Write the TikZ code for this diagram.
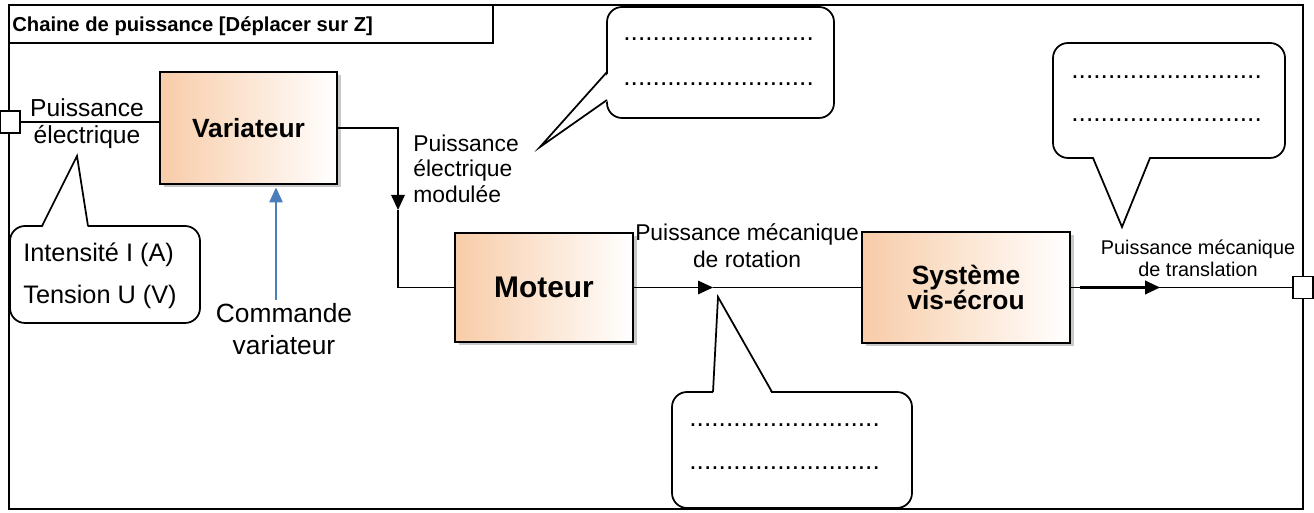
\documentclass[tikz,border=0pt]{standalone}
\usepackage{fontspec}
\setmainfont{Liberation Sans}
\usetikzlibrary{arrows.meta,shadows}
\definecolor{blocpeach}{RGB}{248,204,168}
\definecolor{commandeblue}{RGB}{74,126,187}

\begin{document}
\begin{tikzpicture}[
    bloc/.style={draw, line width=0.04cm, left color=blocpeach, right color=white,
      drop shadow={shadow xshift=0.07cm, shadow yshift=-0.07cm, fill=black!30, opacity=0.7},
      align=center, font=\bfseries\fontsize{15}{14.2}\selectfont},
    port/.style={draw, fill=white, line width=0.03cm, minimum width=0.40cm, minimum height=0.44cm, inner sep=0pt},
    flux/.style={line width=0.03cm},
    fleche/.style={line width=0.03cm, -{Triangle[length=0.30cm,width=0.27cm]}},
    bulle/.style={line width=0.035cm, rounded corners=0.3cm},
    etiquette/.style={inner sep=0pt, align=center},
    pointilles/.style={inner sep=0pt, anchor=base west, font=\fontsize{15}{18}\selectfont}
  ]
        \useasboundingbox (0,0) rectangle (26.280000,10.260000);

        % Drawing frame and title box
        \draw [line width=0.04cm] (0.180000,0.080000) rectangle (26.060000,10.160000);%
        \draw [line width=0.03cm] (0.180000,9.400000) rectangle (9.860000,10.160000);%
        \node [anchor=base west, inner sep=0pt, font=\bfseries\fontsize{11.5}{13}\selectfont] (titre) at (0.240000,9.620000) {Chaine de puissance [Déplacer sur Z]};%

        % Drawing callout for Intensite / Tension
        \draw [bulle] (0.200000,3.800000) rectangle (4.000000,5.740000);%
        \fill [white] (0.840000,5.690000) -- (1.540000,7.140000) -- (1.760000,5.690000) -- cycle;%
        \draw [line width=0.035cm] (0.840000,5.740000) -- (1.540000,7.140000) -- (1.760000,5.740000);%

        % Drawing callout near Puissance electrique modulee
        \draw [bulle] (12.140000,7.900000) rectangle (16.680000,10.120000);%
        \fill [white] (12.190000,8.820000) -- (10.800000,7.320000) -- (12.190000,8.260000) -- cycle;%
        \draw [line width=0.035cm] (12.140000,8.820000) -- (10.800000,7.320000) -- (12.140000,8.260000);%

        % Drawing callout under rotation
        \draw [bulle] (13.440000,0.100000) rectangle (18.240000,2.420000);%
        \fill [white] (14.260000,2.370000) -- (14.360000,4.320000) -- (15.440000,2.370000) -- cycle;%
        \draw [line width=0.035cm] (14.260000,2.420000) -- (14.360000,4.320000) -- (15.440000,2.420000);%

        % Drawing callout over translation
        \draw [bulle] (21.060000,7.100000) rectangle (25.700000,9.400000);%
        \fill [white] (21.860000,7.150000) -- (22.440000,5.720000) -- (23.000000,7.150000) -- cycle;%
        \draw [line width=0.035cm] (21.860000,7.100000) -- (22.440000,5.720000) -- (23.000000,7.100000);%

        % Marking blocks
        \node [bloc, minimum width=3.54cm, minimum height=2.24cm] (variateur) at (4.970000,7.700000) {Variateur};%
        \node [bloc, minimum width=3.56cm, minimum height=2.18cm, font=\bfseries\fontsize{17}{20}\selectfont] (moteur) at (10.880000,4.510000) {Moteur};%
        \node [bloc, minimum width=4.16cm, minimum height=2.22cm] (systeme) at (19.320000,4.510000) {Système\\vis-écrou};%

        % Marking ports
        \node [port] (entree) at (0.200000,7.820000) {};%
        \node [port] (sortie) at (26.060000,4.510000) {};%

        % Drawing power flow
        \draw [flux] (entree.east) -- (entree.east -| variateur.west);%
        \coordinate (modulee) at (7.960000,6.060000);%
        \draw [fleche] (variateur.east) -| (modulee);%
        \draw [flux] (modulee) |- (moteur.west);%
        \coordinate (rotation) at (14.260000,4.510000);%
        \draw [fleche] (moteur.east) -- (rotation);%
        \draw [flux] (rotation) -- (systeme.west);%
        \draw [flux] (systeme.east) -- (sortie.west);%
        \coordinate (translationdebut) at (21.600000,4.510000);%
        \coordinate (translation) at (23.200000,4.510000);%
        \draw [fleche, line width=0.05cm] (translationdebut) -- (translation);%

        % Drawing command input
        \node [etiquette, font=\fontsize{15}{18.2}\selectfont] (commande) at (5.680000,3.680000) {Commande\\variateur};%
        \coordinate (commandedebut) at (5.520000,4.260000);%
        \draw [fleche, commandeblue, shorten >=0.05cm] (commandedebut) -- (commandedebut |- variateur.south);%

        % Marking labels
        \node [etiquette, font=\fontsize{14}{15.4}\selectfont] (puissanceelec) at (1.740000,7.780000) {Puissance\\électrique};%
        \node [anchor=base west, inner sep=0pt, font=\fontsize{14.4}{17}\selectfont] (intensite) at (0.460000,5.020000) {Intensité I (A)};%
        \node [anchor=base west, inner sep=0pt, font=\fontsize{14.4}{17}\selectfont] (tension) at (0.460000,4.180000) {Tension U (V)};%
        \node [etiquette, align=left, anchor=west, font=\fontsize{13}{14.5}\selectfont] (puissancemodulee) at (8.260000,6.890000) {Puissance\\électrique\\modulée};%
        \node [etiquette, font=\fontsize{13}{15.4}\selectfont] (puissancerotation) at (14.940000,5.340000) {Puissance mécanique\\de rotation};%
        \node [etiquette, font=\fontsize{11.3}{12.5}\selectfont] (puissancetranslation) at (23.960000,5.090000) {Puissance mécanique\\de translation};%

        % Marking dotted answer lines
        \node [pointilles] (bulledeuxa) at (12.460000,9.440000) {..........................};%
        \node [pointilles] (bulledeuxb) at (12.460000,8.540000) {..........................};%
        \node [pointilles] (bulletroisa) at (13.780000,1.720000) {..........................};%
        \node [pointilles] (bulletroisb) at (13.780000,0.860000) {..........................};%
        \node [pointilles] (bullequatrea) at (21.420000,8.680000) {..........................};%
        \node [pointilles] (bullequatreb) at (21.420000,7.820000) {..........................};%
\end{tikzpicture}
\end{document}
